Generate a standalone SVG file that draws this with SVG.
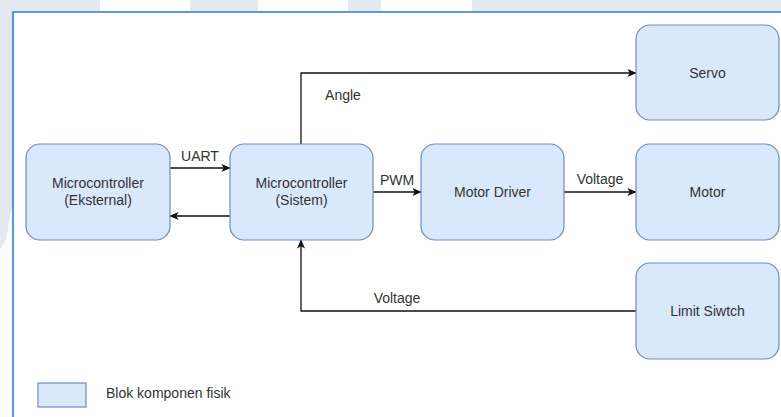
<svg xmlns="http://www.w3.org/2000/svg" width="781" height="417" viewBox="0 0 781 417">
  <style>
    .blk rect { fill: #dae8fc; stroke: #6c8ebf; stroke-width: 1.2; }
    .blk text, .lbl { font-family: "Liberation Sans", Arial, sans-serif; font-size: 14px; fill: #333333; text-anchor: middle; }
    .wire { fill: none; stroke: #111111; stroke-width: 1.3; }
    .strip { fill: #e4e8f0; }
  </style>
  <defs>
    <marker id="arr" viewBox="0 0 10 10" refX="9.5" refY="5" markerWidth="9" markerHeight="9" markerUnits="userSpaceOnUse" orient="auto">
      <path d="M0,0.5 L10,5 L0,9.5 L2.5,5 Z" fill="#111111"/>
    </marker>
  </defs>

  <!-- page background -->
  <rect x="0" y="0" width="781" height="417" fill="#ffffff"/>
  <g id="backdrop">
    <rect class="strip" x="0" y="0" width="100" height="12"/>
    <rect class="strip" x="190" y="0" width="68" height="12"/>
    <rect class="strip" x="348" y="0" width="33" height="12"/>
    <rect class="strip" x="472" y="0" width="309" height="12"/>
    <polygon class="strip" points="0,0 13,0 13,200 6,240 0,250"/>
  </g>

  <!-- frame -->
  <path d="M13,417 L13,12 L781,12" fill="none" stroke="#5b9bd5" stroke-width="2.2"/>

  <!-- connectors -->
  <g id="connectors">
    <path class="wire" d="M170,168 L230,168" marker-end="url(#arr)"/>
    <path class="wire" d="M230,216 L170,216" marker-end="url(#arr)"/>
    <path class="wire" d="M373,192 L421,192" marker-end="url(#arr)"/>
    <path class="wire" d="M564,192 L636,192" marker-end="url(#arr)"/>
    <path class="wire" d="M301,144 L301,73 L636,73" marker-end="url(#arr)"/>
    <path class="wire" d="M636,311 L301,311 L301,240" marker-end="url(#arr)"/>
    <text class="lbl" x="200" y="161">UART</text>
    <text class="lbl" x="397" y="185">PWM</text>
    <text class="lbl" x="600" y="184">Voltage</text>
    <text class="lbl" x="343" y="100">Angle</text>
    <text class="lbl" x="397" y="303">Voltage</text>
  </g>

  <!-- blocks -->
  <g id="mcu-ext" class="blk">
    <rect x="26" y="144" width="144" height="96" rx="14"/>
    <text x="98" y="188">Microcontroller</text>
    <text x="98" y="205">(Eksternal)</text>
  </g>
  <g id="mcu-sys" class="blk">
    <rect x="230" y="144" width="143" height="96" rx="14"/>
    <text x="301.5" y="188">Microcontroller</text>
    <text x="301.5" y="205">(Sistem)</text>
  </g>
  <g id="motor-driver" class="blk">
    <rect x="421" y="144" width="143" height="96" rx="14"/>
    <text x="492.5" y="197">Motor Driver</text>
  </g>
  <g id="servo" class="blk">
    <rect x="636" y="25" width="143" height="95" rx="14"/>
    <text x="707.5" y="78">Servo</text>
  </g>
  <g id="motor" class="blk">
    <rect x="636" y="144" width="143" height="96" rx="14"/>
    <text x="707.5" y="197">Motor</text>
  </g>
  <g id="limit-switch" class="blk">
    <rect x="636" y="263" width="143" height="96" rx="14"/>
    <text x="707.5" y="316">Limit Siwtch</text>
  </g>

  <!-- legend -->
  <g id="legend" class="blk">
    <rect x="38" y="383" width="48" height="24" rx="0"/>
    <text x="106" y="398" style="text-anchor:start">Blok komponen fisik</text>
  </g>
</svg>
